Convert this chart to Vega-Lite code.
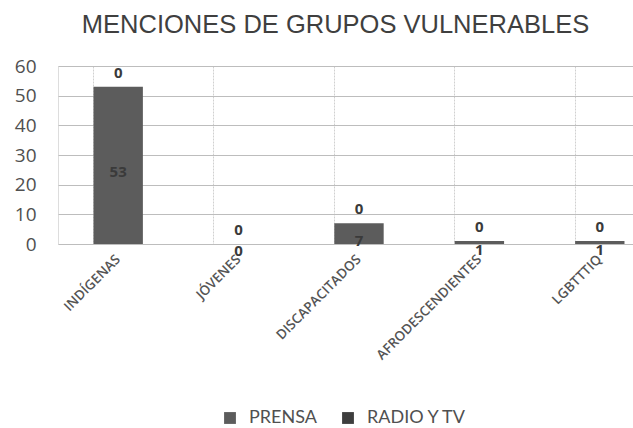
{
  "$schema": "https://vega.github.io/schema/vega-lite/v6.json",
  "autosize": "none",
  "width": 575,
  "height": 178,
  "padding": {"left": 58, "top": 66, "right": 0, "bottom": 184},
  "background": "white",
  "title": {
    "text": "MENCIONES DE GRUPOS VULNERABLES",
    "font": "Liberation Sans",
    "fontSize": 25.5,
    "fontWeight": "normal",
    "color": "#3f3f3f",
    "anchor": "middle",
    "dx": -10,
    "offset": 19
  },
  "resolve": {"axis": {"y": "independent"}},
  "data": {
    "values": [
      {"grupo": "INDÍGENAS", "medio": "PRENSA", "valor": 53},
      {"grupo": "INDÍGENAS", "medio": "RADIO Y TV", "valor": 0},
      {"grupo": "JÓVENES", "medio": "PRENSA", "valor": 0},
      {"grupo": "JÓVENES", "medio": "RADIO Y TV", "valor": 0},
      {"grupo": "DISCAPACITADOS", "medio": "PRENSA", "valor": 7},
      {"grupo": "DISCAPACITADOS", "medio": "RADIO Y TV", "valor": 0},
      {"grupo": "AFRODESCENDIENTES", "medio": "PRENSA", "valor": 1},
      {"grupo": "AFRODESCENDIENTES", "medio": "RADIO Y TV", "valor": 0},
      {"grupo": "LGBTTTIQ", "medio": "PRENSA", "valor": 1},
      {"grupo": "LGBTTTIQ", "medio": "RADIO Y TV", "valor": 0}
    ]
  },
  "transform": [
    {"stack": "valor", "groupby": ["grupo"], "sort": [{"field": "medio", "order": "ascending"}], "as": ["y0", "y1"]},
    {"calculate": "(datum.y0 + datum.y1) / 2", "as": "ymid"}
  ],
  "encoding": {
    "x": {
      "field": "grupo",
      "type": "nominal",
      "sort": ["INDÍGENAS", "JÓVENES", "DISCAPACITADOS", "AFRODESCENDIENTES", "LGBTTTIQ"],
      "scale": {"range": [0, 602], "paddingInner": 0.59, "paddingOuter": 0.295},
      "axis": {
        "title": null,
        "labelAngle": -45,
        "labelAlign": "right",
        "labelBaseline": "middle",
        "labelFont": "Open Sans",
        "labelFontSize": 13.5,
        "labelFontWeight": 600,
        "labelColor": "#555555",
        "labelPadding": 13,
        "domain": false,
        "ticks": false,
        "grid": true,
        "bandPosition": 0,
        "gridColor": "#d0d0d0",
        "gridDash": [2, 1]
      }
    }
  },
  "layer": [
    {
      "mark": {"type": "bar"},
      "encoding": {
        "y": {
          "field": "y1",
          "type": "quantitative",
          "scale": {"domain": [0, 60], "nice": false},
          "axis": {
            "title": null,
            "values": [0, 10, 20, 30, 40, 50, 60],
            "labelOverlap": false,
            "labelFont": "Open Sans",
            "labelFontSize": 19,
            "labelColor": "#505050",
            "labelPadding": 22,
            "domain": false,
            "ticks": false,
            "gridColor": "#bdbdbd"
          }
        },
        "y2": {"field": "y0"},
        "color": {
          "field": "medio",
          "type": "nominal",
          "scale": {"domain": ["PRENSA", "RADIO Y TV"], "range": ["#5c5c5c", "#3e3e3e"]},
          "legend": {
            "title": null,
            "orient": "none",
            "direction": "horizontal",
            "legendX": 163,
            "legendY": 343,
            "symbolType": "square",
            "symbolSize": 140,
            "labelFont": "Lato",
            "labelFontSize": 18,
            "labelColor": "#505050",
            "labelOffset": 10,
            "columnPadding": 22
          }
        }
      }
    },
    {
      "transform": [{"filter": "datum.medio == 'PRENSA'"}],
      "mark": {"type": "text", "font": "Open Sans", "fontWeight": "bold", "fontSize": 15, "color": "#3a3a3a", "baseline": "middle", "dy": 7},
      "encoding": {
        "y": {"field": "ymid", "type": "quantitative", "axis": null},
        "text": {"field": "valor", "type": "quantitative"}
      }
    },
    {
      "transform": [{"filter": "datum.medio == 'RADIO Y TV'"}],
      "mark": {"type": "text", "font": "Open Sans", "fontWeight": "bold", "fontSize": 15, "color": "#3a3a3a", "baseline": "middle", "dy": -14},
      "encoding": {
        "y": {"field": "y1", "type": "quantitative", "axis": null},
        "text": {"field": "valor", "type": "quantitative"}
      }
    }
  ]
}
